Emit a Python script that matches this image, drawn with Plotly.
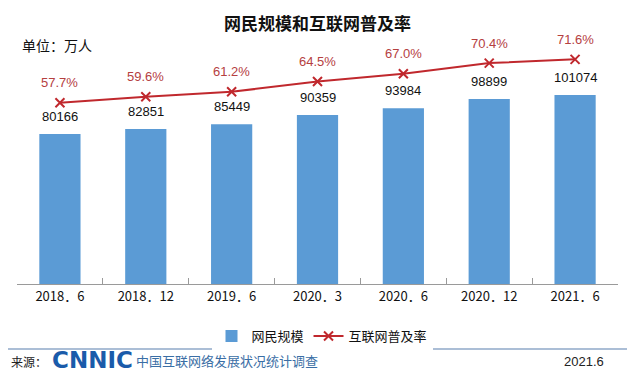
import plotly.graph_objects as go

categories = ["2018．6", "2018．12", "2019．6", "2020．3", "2020．6", "2020．12", "2021．6"]
users = [80166, 82851, 85449, 90359, 93984, 98899, 101074]
rate = [57.7, 59.6, 61.2, 64.5, 67.0, 70.4, 71.6]

CJK = "Noto Sans CJK SC"
NUM = "Liberation Sans, Arial"
BLUE = "#5B9BD5"
RED = "#C0282D"
RED_TXT = "#B5403F"

# page body has an 8px margin; figure is drawn at page offset (8, 8)
OFF = 8
W, H = 635 - OFF, 376 - OFF
# plot area in page pixels: x 17..618, y 40..284
PL, PR, PT, PB = 17, 618, 40, 284
L, R, T, B = PL - OFF, (W + OFF) - PR, PT - OFF, (H + OFF) - PB
pw, ph = PR - PL, PB - PT


def px2paper(x, y):
    return (x - PL) / pw, (PB - y) / ph


fig = go.Figure()
fig.add_trace(go.Bar(
    x=categories, y=users, name="网民规模", marker=dict(color=BLUE, line=dict(width=0)),
    width=0.48, yaxis="y"))
fig.add_trace(go.Scatter(
    x=categories, y=rate, name="互联网普及率", mode="lines+markers", yaxis="y2",
    line=dict(color=RED, width=2),
    marker=dict(symbol="x-thin", size=9, line=dict(color=RED, width=2), color=RED)))

ann = []
for c, v in zip(categories, users):
    ann.append(dict(x=c, y=v, xref="x", yref="y", text=str(v), showarrow=False,
                    yshift=18, font=dict(family=NUM, size=13, color="#111111")))
for c, r in zip(categories, rate):
    ann.append(dict(x=c, y=r, xref="x", yref="y2", text=f"{r:.1f}%", showarrow=False,
                    yshift=20, font=dict(family=NUM, size=13, color=RED_TXT)))

pix_ann = [
    dict(x=317, y=22, text="<b>网民规模和互联网普及率</b>", xanchor="center",
         font=dict(family=CJK, size=17, color="#111111")),
    dict(x=20, y=45, text="单位：万人", xanchor="left",
         font=dict(family=CJK, size=14, color="#111111")),
    dict(x=9, y=361, text="来源：", xanchor="left",
         font=dict(family=CJK, size=12, color="#222222")),
    dict(x=50, y=360, text="<b>CNNIC</b>", xanchor="left",
         font=dict(family="DejaVu Sans", size=23, color="#1A5BAA")),
    dict(x=134, y=360, text="中国互联网络发展状况统计调查", xanchor="left",
         font=dict(family=CJK, size=13, color="#3A6EA5")),
    dict(x=606, y=361, text="2021.6", xanchor="right",
         font=dict(family=NUM, size=13, color="#222222")),
]
for a in pix_ann:
    a["x"], a["y"] = px2paper(a["x"], a["y"])
    a.update(xref="paper", yref="paper", yanchor="middle", showarrow=False)
    ann.append(a)

lx, ly = px2paper(322, 336)
sx0, sy = px2paper(OFF, 349)
sx1, _ = px2paper(635, 349)

fig.update_layout(
    width=W, height=H, margin=dict(l=L, r=R, t=T, b=B, pad=0, autoexpand=False),
    paper_bgcolor="white", plot_bgcolor="white",
    showlegend=True,
    legend=dict(orientation="h", x=lx, xanchor="center", y=ly, yanchor="middle",
                font=dict(family=CJK, size=13, color="#111111"), itemwidth=30, traceorder="normal"),
    xaxis=dict(type="category", range=[-0.5, 6.5], showline=True, linecolor="#9A9A9A", linewidth=1,
               ticks="inside", tickson="boundaries", ticklen=6, tickcolor="#9A9A9A",
               tickfont=dict(family=CJK, size=13, color="#111111"), showgrid=False, zeroline=False),
    yaxis=dict(range=[0, 130500], visible=False, showgrid=False, zeroline=False),
    yaxis2=dict(range=[-0.4, 77.8], overlaying="y", visible=False, showgrid=False, zeroline=False),
    annotations=ann,
    shapes=[dict(type="line", xref="paper", yref="paper", x0=sx0, x1=sx1,
                 y0=sy, y1=sy, line=dict(color="#8FA9C8", width=1.5))],
)
fig.write_html("out.html")
